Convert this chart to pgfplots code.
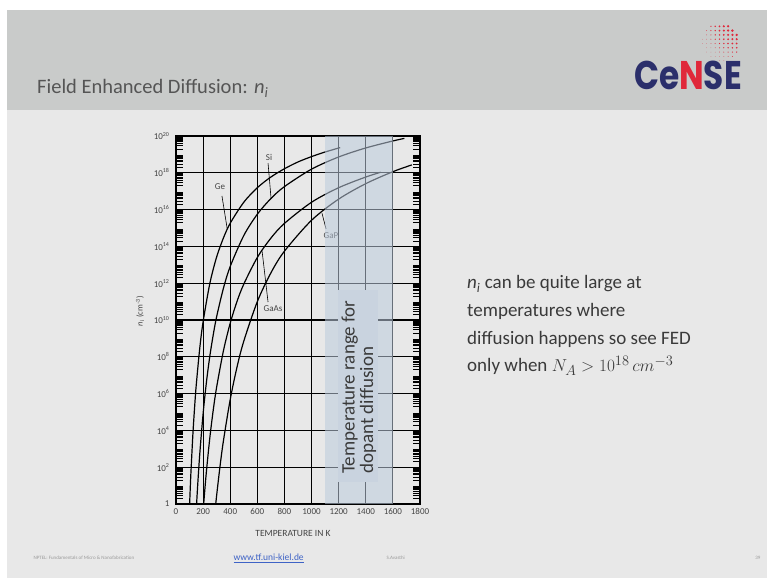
\documentclass[border=0pt]{standalone}
\usepackage{fontspec}
\setmainfont{Carlito}
\newfontfamily\logofont{Poppins}
\usepackage{pgfplots}
\pgfplotsset{compat=1.18}
\definecolor{hdr}{HTML}{C9CBCA}
\definecolor{slidebg}{HTML}{E8E8E8}
\definecolor{titlecol}{HTML}{555555}
\definecolor{bodytext}{HTML}{3A3A3A}
\definecolor{figtext}{HTML}{444444}
\definecolor{shadecol}{HTML}{BCCBDD}
\definecolor{boxcol}{HTML}{C9D3DF}
\definecolor{navy}{HTML}{2B2F6B}
\definecolor{censered}{HTML}{E0283A}
\definecolor{linkblue}{HTML}{3E63C6}
\definecolor{footgrey}{HTML}{9A9A9A}
\def\minorlist{}
\foreach \jj in {0,...,19}{\foreach \ii in {2,...,9}{\xdef\minorlist{\minorlist\ii e\jj,}}}
\xdef\minorlist{\minorlist 1e20}
\begin{document}
\begin{tikzpicture}
\begin{scope}[x=1pt,y=1pt]
\path[use as bounding box] (0,0) rectangle (767,581);
\fill[white] (0,0) rectangle (767,581);
\fill[slidebg] (7,3) rectangle (767,571);
\fill[hdr] (7,471) rectangle (767,571);
% title
\node[anchor=base west, text=titlecol, font=\fontsize{20.5}{24}\selectfont, inner sep=0] at (37,487) {Field Enhanced Diffusion: \textit{n}\textsubscript{\textit{i}}};
% logo
\foreach \ii in {0,...,10}{\foreach \jj in {0,...,10}{
  \pgfmathsetmacro\px{698+4.3*\ii}
  \pgfmathsetmacro\py{581-(22+4.3*\jj)}
  \pgfmathsetmacro\dd{veclen(\px-721,\py-539)}
  \pgfmathsetmacro\rr{max(0.25,1.9-0.04*veclen(\px-742,\py-559))}
  \ifdim\dd pt<19pt \fill[censered] (\px,\py) circle (\rr);\fi
}}
\node[anchor=center, inner sep=0, font=\logofont\bfseries\fontsize{40}{42}\selectfont] at (688,506) {\scalebox{0.82}[1]{\textcolor{navy}{Ce}\textcolor{censered}{N}\textcolor{navy}{SE}}};
% right text
\begin{scope}[every node/.style={anchor=base west, inner sep=0, text=bodytext, font=\fontsize{19}{22}\selectfont}]
\node at (467,292) {\textit{n}\textsubscript{\textit{i}} can be quite large at};
\node at (467,264.5) {temperatures where};
\node at (467,236.5) {diffusion happens so see FED};
\node at (467,209) {only when $N_A > 10^{18}\,cm^{-3}$};
\end{scope}
% footer
\node[anchor=west, text=footgrey, font=\fontsize{5}{6}\selectfont] at (30,23) {NPTEL: Fundamentals of Micro \& Nanofabrication};
\node[anchor=west, text=linkblue, font=\fontsize{9.5}{11}\selectfont] at (230,23) {\underline{www.tf.uni-kiel.de}};
\node[anchor=west, text=footgrey, font=\fontsize{5}{6}\selectfont] at (383,23) {S.Avasthi};
\node[anchor=east, text=footgrey, font=\fontsize{5}{6}\selectfont] at (764,23) {39};
\end{scope}
% chart
\begin{axis}[
  at={(176pt,77pt)}, anchor=south west,
  scale only axis, width=244pt, height=368pt,
  xmin=0, xmax=1800, ymode=log, ymin=1, ymax=1e20,
  xtick={0,200,...,1800},
  xticklabels={0,200,400,600,800,1000,1200,1400,1600,1800},
  ytick={1,1e2,1e4,1e6,1e8,1e10,1e12,1e14,1e16,1e18,1e20},
  yticklabels={1,10\textsuperscript{2},10\textsuperscript{4},10\textsuperscript{6},10\textsuperscript{8},10\textsuperscript{10},10\textsuperscript{12},10\textsuperscript{14},10\textsuperscript{16},10\textsuperscript{18},10\textsuperscript{20}},
  minor ytick/.expanded=\minorlist,
  grid=major,
  major grid style={black, line width=1.1pt},
  axis line style={black, line width=1.8pt},
  major tick length=0pt, minor tick length=7pt, tick align=inside,
  minor tick style={black, line width=0.45pt},
  ticklabel style={font=\fontsize{9}{10}\selectfont, text=figtext},
  xticklabel style={yshift=-1pt},
  yticklabel style={xshift=-3pt},
]
\addplot[black, line width=1.2pt, smooth] coordinates {(100,0.79)(105,6.9)(110,49)(125,7.1e3)(140,3.63e5)(150,3.31e6)(175,2.82e8)(200,8.13e9)(250,1.0e12)(300,2.69e13)(350,2.88e14)(400,1.82e15)(500,2.51e16)(600,1.55e17)(700,5.89e17)(800,1.66e18)(900,3.89e18)(1000,7.59e18)(1100,1.35e19)(1211,2.34e19)};
\addplot[black, line width=1.2pt, smooth] coordinates {(150,0.56)(160,10.5)(175,490)(200,8.13e4)(225,4.47e6)(250,1.15e8)(275,1.62e9)(300,1.55e10)(350,5.37e11)(400,8.13e12)(500,3.89e14)(600,5.62e15)(700,3.98e16)(800,1.78e17)(1000,1.58e18)(1200,7.24e18)(1400,2.24e19)(1600,5.37e19)(1685,7.41e19)};
\addplot[black, line width=1.2pt, smooth] coordinates {(200,0.38)(210,3.47)(225,66.1)(250,4.27e3)(275,1.32e5)(300,2.29e6)(350,2.14e8)(400,6.76e9)(450,1.02e11)(500,8.91e11)(600,2.51e13)(700,2.82e14)(800,1.78e15)(1000,2.51e16)(1200,1.55e17)(1400,5.89e17)(1510,1.07e18)};
\addplot[black, line width=1.2pt, smooth] coordinates {(290,0.59)(300,3.02)(325,117)(350,2750)(400,4.79e5)(450,2.75e7)(500,7.08e8)(600,1.0e11)(700,3.63e12)(800,5.5e13)(1000,2.63e15)(1200,3.72e16)(1400,2.57e17)(1600,1.15e18)(1740,2.69e18)};
% curve labels
\begin{scope}[every node/.style={font=\fontsize{9}{10}\selectfont, text=figtext, inner sep=0}]
\node at (axis cs:686,7.2e18) {Si};
\draw[line width=0.6pt] (axis cs:679,3.4e18) -- (axis cs:701,4.2e16);
\node at (axis cs:325,1.7e17) {Ge};
\draw[line width=0.6pt] (axis cs:339,5.5e16) -- (axis cs:378,8.9e14);
\node at (axis cs:716,4.0e10) {GaAs};
\draw[line width=0.6pt] (axis cs:679,9.5e10) -- (axis cs:635,5.6e13);
\node at (axis cs:1143,3.7e14) {GaP};
\draw[line width=0.6pt] (axis cs:1107,8.9e14) -- (axis cs:1077,6.3e15);
\end{scope}
\fill[shadecol, fill opacity=0.55] (axis cs:1100,1) rectangle (axis cs:1600,1e20);
\end{axis}
\begin{scope}[x=1pt,y=1pt]
% text box
\fill[boxcol] (338,99) rectangle (378,291);
\node[rotate=90, align=left, inner sep=0, text=bodytext, font=\fontsize{19}{18.5}\selectfont] at (359,194) {Temperature range for\\dopant diffusion};
% axis titles
\node[font=\fontsize{9.5}{11}\selectfont, text=figtext] at (293,48) {TEMPERATURE IN K};
\node[rotate=90, font=\fontsize{8.5}{10}\selectfont, text=figtext] at (140,270) {\textit{n}\textsubscript{i} (cm\textsuperscript{--3})};
\end{scope}
\end{tikzpicture}
\end{document}
